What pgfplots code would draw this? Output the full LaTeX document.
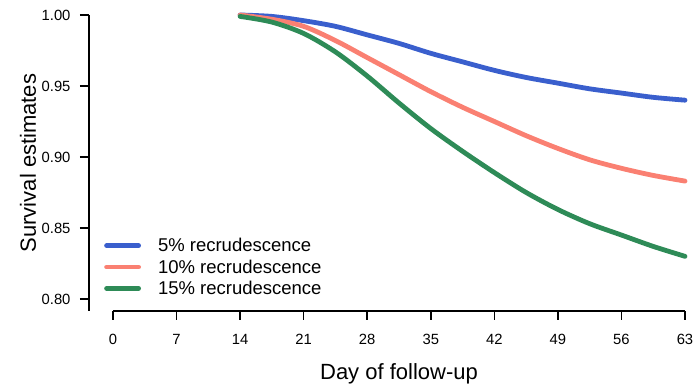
\documentclass[border=0pt]{standalone}
\usepackage{pgfplots}
\pgfplotsset{compat=1.18}
\usepackage{fontspec}
\setmainfont{Liberation Sans}
\definecolor{cblue}{HTML}{3A5FCD}
\definecolor{cred}{HTML}{FA8072}
\definecolor{cgreen}{HTML}{2E8B57}
\begin{document}
\begin{tikzpicture}
\useasboundingbox (0pt,0pt) rectangle (694pt,387pt);
\begin{axis}[
  at={(113pt,76pt)}, anchor=south west,
  scale only axis, width=572pt, height=296pt,
  xmin=0, xmax=63, ymin=0.7915, ymax=1.0,
  clip=false,
  axis x line*=bottom, axis y line*=left,
  axis line style={-, line width=1.5pt},
  y axis line style={xshift=-24pt},
  ytick style={xshift=-24pt, line width=1.5pt, black},
  xtick style={line width=1.5pt, black},
  tick align=outside, major tick length=9pt,
  xtick={0,7,14,21,28,35,42,49,56,63},
  ytick={0.80,0.85,0.90,0.95,1.00},
  /pgf/number format/assume math mode=true,
  tick label style={font=\fontsize{14.8}{17}\selectfont},
  yticklabel style={/pgf/number format/.cd, fixed, fixed zerofill, precision=2, /tikz/.cd, xshift=-30pt},
  xticklabel style={yshift=-11pt},
  xlabel={Day of follow-up},
  ylabel={Survival estimates},
  every axis x label/.style={at={(axis description cs:0.5,0)}, anchor=base, yshift=-69pt, font=\fontsize{22}{26}\selectfont},
  every axis y label/.style={at={(axis description cs:-0.1486,0.5)}, anchor=center, rotate=90, font=\fontsize{22}{26}\selectfont},
  legend style={draw=none, fill=none, at={(axis description cs:0,0)}, anchor=north west, xshift=-9pt, yshift=75pt, font=\fontsize{18.5}{21.5}\selectfont, row sep=2.5pt, inner sep=0pt},
  legend cell align=left,
  legend image code/.code={\draw[#1, line width=4.8pt, line cap=round] (0pt,0pt) -- (32pt,0pt); \path (47pt,0pt);},
]
\addplot[cblue, line width=4.8pt, line cap=round, smooth] coordinates {
(14,1.000) (17.5,0.999) (21,0.996) (24.5,0.992) (28,0.986) (31.5,0.980) (35,0.973) (38.5,0.967) (42,0.961) (45.5,0.956) (49,0.952) (52.5,0.948) (56,0.945) (59.5,0.942) (63,0.940)};
\addlegendentry{5\% recrudescence}
\addplot[cred, line width=4.8pt, line cap=round, smooth] coordinates {
(14,1.000) (17.5,0.997) (21,0.992) (24.5,0.982) (28,0.970) (31.5,0.958) (35,0.946) (38.5,0.935) (42,0.925) (45.5,0.915) (49,0.906) (52.5,0.898) (56,0.892) (59.5,0.887) (63,0.883)};
\addlegendentry{10\% recrudescence}
\addplot[cgreen, line width=4.8pt, line cap=round, smooth] coordinates {
(14,0.999) (17.5,0.995) (21,0.987) (24.5,0.974) (28,0.957) (31.5,0.938) (35,0.920) (38.5,0.904) (42,0.889) (45.5,0.875) (49,0.863) (52.5,0.853) (56,0.845) (59.5,0.837) (63,0.830)};
\addlegendentry{15\% recrudescence}
\end{axis}
\end{tikzpicture}
\end{document}
